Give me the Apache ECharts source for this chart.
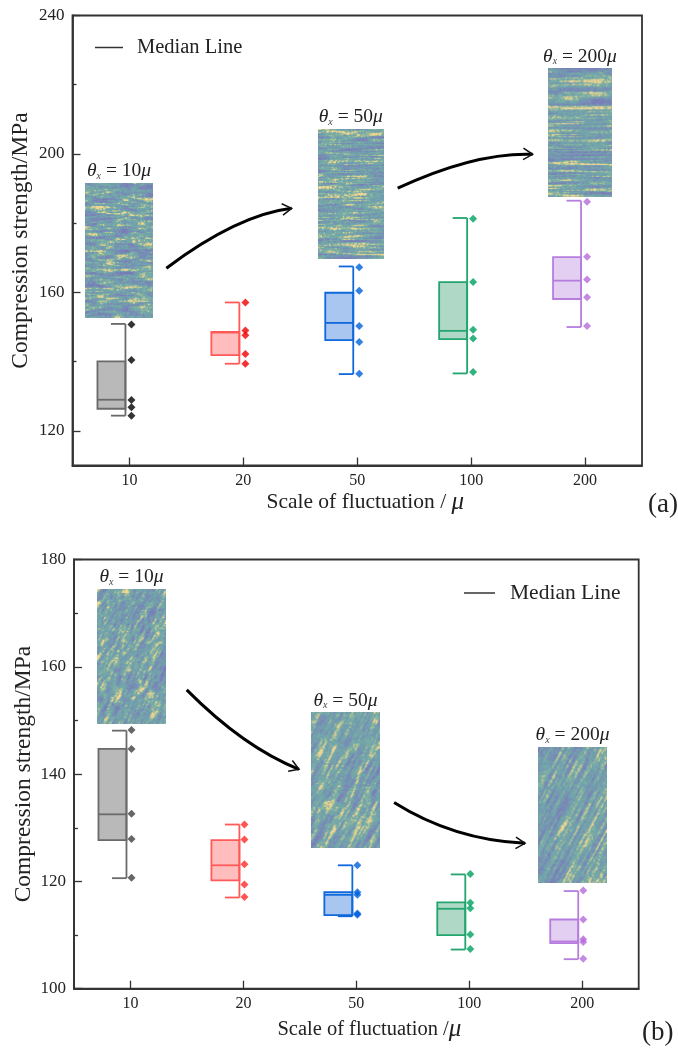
<!DOCTYPE html>
<html><head><meta charset="utf-8">
<style>html,body{margin:0;padding:0;background:#fff}#c{width:678px;height:1048px;filter:blur(0.4px)}</style>
<script src="https://cdn.jsdelivr.net/npm/echarts@6/dist/echarts.min.js"></script>
</head><body><div id="c"></div>
<script>
// ---- data ----
const categories = ['10','20','50','100','200'];
const panelATicks = [120,160,200,240];
const panelAMinor = [140,180,220];
const panelBTicks = [100,120,140,160,180];
const panelBMinor = [110,130,150,170];
// whisker low, Q1, median, Q3, whisker high
const aLow  = [124.4,139.4,136.4,136.6,150.0];
const aQ1   = [126.4,141.9,146.2,146.5,158.1];
const aMed  = [129.0,148.4,151.2,148.9,163.4];
const aQ3   = [140.1,148.6,159.9,163.0,170.2];
const aHigh = [150.9,157.1,167.5,181.5,186.5];
const aPts10  = [150.7,140.5,128.9,126.8,124.4];
const aPts20  = [157.1,149.0,147.6,142.2,139.4];
const aPts50  = [167.3,160.5,150.3,145.7,136.5];
const aPts100 = [181.3,163.0,149.2,146.7,137.0];
const aPts200 = [186.2,170.3,163.7,158.6,150.3];
const bLow  = [120.6,117.0,113.5,107.3,105.5];
const bQ1   = [127.7,120.2,113.7,110.0,108.5];
const bMed  = [132.5,123.0,117.5,114.9,108.8];
const bQ3   = [144.7,127.7,118.0,116.1,112.9];
const bHigh = [148.1,130.6,123.0,121.3,118.2];
const bPts10  = [148.2,144.7,132.6,127.9,120.7];
const bPts20  = [130.6,127.8,123.2,119.4,117.1];
const bPts50  = [123.0,118.0,117.5,114.0,113.8];
const bPts100 = [121.4,116.0,115.0,110.1,107.4];
const bPts200 = [118.3,112.9,109.2,108.7,105.6];
// inset labels and their extents [slotFrom, slotTo, valueLow, valueHigh]
const insetLabels = ['10','50','200'];
const aInsets = [[0.110,0.707,152.7,191.6],[2.155,2.732,169.7,207.2],[4.172,4.739,187.6,224.7]];
const bInsets = [[0.206,0.812,149.3,174.5],[2.101,2.707,126.15,151.5],[4.111,4.717,119.75,145.0]];
// trend arrows [x0,y0, cx,cy, x1,y1]
const aArrows = [[0.824,167.0,1.448,182.4,1.924,184.3],[2.855,190.1,3.532,200.5,4.04,199.9]];
const bArrows = [[0.998,155.7,1.503,145.0,1.992,140.9],[2.834,134.7,3.364,127.7,3.994,127.1]];

// ---- styles ----
const FONT = '"Liberation Serif","Times New Roman",serif';
const strokes = ['#6a6a6a','#ff5a5a','#0f68dc','#22a56f','#b67ddf'];
const fills   = ['#b9b9b9','#ffbdbd','#a9c6f0','#b0d8c6','#e3cff2'];
const aDots   = ['#000000','#f00000','#0060dc','#00a060','#b46cdc'];
const bDots   = ['#404040','#ff2a2a','#0060dc','#00a060','#b46cdc'];

// ---- texture for inset micrographs ----
function hash(i,j,s){let x=Math.sin(i*127.1+j*311.7+s*74.7)*43758.5453;return x-Math.floor(x);}
function vnoise(x,y,s){const i=Math.floor(x),j=Math.floor(y);let fx=x-i,fy=y-j;
  fx=fx*fx*(3-2*fx);fy=fy*fy*(3-2*fy);
  const a=hash(i,j,s),b=hash(i+1,j,s),c=hash(i,j+1,s),d=hash(i+1,j+1,s);
  return a+(b-a)*fx+(c-a)*fy+(a-b-c+d)*fx*fy;}
const ramp=[[0,[118,122,182]],[0.3,[122,142,182]],[0.44,[112,160,172]],[0.66,[122,174,165]],[0.76,[176,194,150]],[0.88,[238,210,146]],[1,[245,216,150]]];
function cmap(t){t=Math.max(0,Math.min(1,t));for(let k=1;k<ramp.length;k++){if(t<=ramp[k][0]){const a=ramp[k-1],b=ramp[k],f=(t-a[0])/(b[0]-a[0]);return a[1].map((v,q)=>v+(b[1][q]-v)*f);}}return ramp[ramp.length-1][1];}
function makeTexture(w,h,angle,along,across,seed){
  const cv=document.createElement('canvas');cv.width=w;cv.height=h;const g=cv.getContext('2d');const im=g.createImageData(w,h);
  const ca=Math.cos(angle),sa=Math.sin(angle);
  for(let y=0;y<h;y++)for(let x=0;x<w;x++){
    const u=x*ca-y*sa,v=x*sa+y*ca;
    const n1=vnoise(u/along,v/across,seed),n2=vnoise(u/(along*0.4),v/(across*0.45),seed+5),n3=vnoise(x/1.4,y/1.4,seed+9);
    const t=0.5+(n1-0.5)*0.5+(n2-0.5)*0.55+(n3-0.5)*0.38;
    const c=cmap(t),o=(y*w+x)*4;im.data[o]=c[0];im.data[o+1]=c[1];im.data[o+2]=c[2];im.data[o+3]=255;}
  g.putImageData(im,0,0);return cv;}
const H=0,D=Math.PI/2.9;
const aTex=[makeTexture(68,135,H,20,3.2,1),makeTexture(66,130,H,36,2.6,2),makeTexture(65,129,H,60,2.4,3)];
const bTex=[makeTexture(68,135,D,14,3.6,4),makeTexture(68,135,D,26,3.4,5),makeTexture(68,135,D,50,3.4,6)];

// ---- series builders ----
function boxSeries(low,q1,med,q3,high,xi,yi){
  return {type:'custom',xAxisIndex:xi,yAxisIndex:yi,z:3,silent:true,clip:false,
    data:categories.map((c,i)=>[i,low[i],q1[i],med[i],q3[i],high[i]]),
    encode:{x:0,y:[1,2,3,4,5]},
    renderItem(p,api){
      const i=api.value(0),X=api.coord([i,api.value(3)])[0];
      const L=X-32,R=X-4,C=X-18.5;
      const py=k=>api.coord([i,api.value(k)])[1];
      const st={stroke:strokes[p.dataIndex],lineWidth:1.8,fill:null};
      const line=(a,b,c,d)=>({type:'line',shape:{x1:a,y1:b,x2:c,y2:d},style:st});
      return {type:'group',children:[
        {type:'rect',shape:{x:L,y:py(4),width:R-L,height:py(2)-py(4)},style:{fill:fills[p.dataIndex],stroke:strokes[p.dataIndex],lineWidth:1.8}},
        line(L,py(3),R,py(3)),line(R,py(5),R,py(1)),line(C,py(5),R,py(5)),line(C,py(1),R,py(1))]};
    }};
}
function dotSeries(rows,colors,xi,yi,dx){
  const data=[];rows.forEach((r,i)=>r.forEach(v=>data.push({value:[i,v],itemStyle:{color:colors[i]}})));
  return {type:'scatter',xAxisIndex:xi,yAxisIndex:yi,z:4,silent:true,symbol:'diamond',symbolSize:8,symbolOffset:[dx,0],data};
}
function insetSeries(ins,tex,xi,yi){
  return {type:'custom',xAxisIndex:xi,yAxisIndex:yi,z:2,silent:true,clip:false,
    data:ins,encode:{x:[0,1],y:[2,3]},
    renderItem(p,api){
      const a=api.coord([api.value(0),api.value(3)]),b=api.coord([api.value(1),api.value(2)]);
      const cx=(a[0]+b[0])/2;
      return {type:'group',children:[
        {type:'image',style:{image:tex[p.dataIndex],x:a[0],y:a[1],width:b[0]-a[0],height:b[1]-a[1]}},
        {type:'text',style:{x:cx,y:a[1]-2,align:'center',verticalAlign:'bottom',
          text:'{t|θ}{s|x}{n| = '+insetLabels[p.dataIndex]+'}{t|μ}',
          rich:{t:{fontFamily:FONT,fontStyle:'italic',fontSize:19.5,fill:'#222',verticalAlign:'bottom',lineHeight:22},
                s:{fontFamily:FONT,fontStyle:'italic',fontSize:10,fill:'#444',verticalAlign:'bottom',lineHeight:16},
                n:{fontFamily:FONT,fontSize:19.5,fill:'#222',verticalAlign:'bottom',lineHeight:22}}}}]};
    }};
}
function arrowSeries(arr,xi,yi){
  return {type:'custom',xAxisIndex:xi,yAxisIndex:yi,z:5,silent:true,clip:false,
    data:arr,encode:{x:[0,2,4],y:[1,3,5]},
    renderItem(p,api){
      const s=api.coord([api.value(0),api.value(1)]),c=api.coord([api.value(2),api.value(3)]),e=api.coord([api.value(4),api.value(5)]);
      const ang=Math.atan2(e[1]-c[1],e[0]-c[0]),h=11,w=0.55;
      return {type:'group',children:[
        {type:'bezierCurve',shape:{x1:s[0],y1:s[1],x2:e[0],y2:e[1],cpx1:c[0],cpy1:c[1]},style:{stroke:'#000',lineWidth:3,fill:null}},
        {type:'polyline',shape:{points:[[e[0]-h*Math.cos(ang-w),e[1]-h*Math.sin(ang-w)],[e[0],e[1]],[e[0]-h*Math.cos(ang+w),e[1]-h*Math.sin(ang+w)]]},style:{stroke:'#111',lineWidth:1.5,fill:null}}]};
    }};
}
function medianKey(xi,yi){return {type:'line',name:'Median Line',xAxisIndex:xi,yAxisIndex:yi,data:[],symbol:'none',lineStyle:{color:'#333',width:1.5},itemStyle:{color:'#333'}};}

// ---- axes ----
const axisLine={show:true,onZero:false,lineStyle:{color:'#333',width:1.8}};
function catAxis(gi,pad,gap){return {type:'category',gridIndex:gi,data:categories,position:'bottom',boundaryGap:true,
  axisLine,axisTick:{show:true,inside:true,alignWithLabel:true,length:8,lineStyle:{color:'#333',width:1.3}},
  axisLabel:{fontFamily:FONT,fontSize:16,color:'#222',margin:7},nameMoveOverlap:false,
  name:gi===0?'{n|Scale of fluctuation / }{m|μ}':'{n|Scale of fluctuation /}{m|μ}',nameLocation:'center',nameGap:gap,
  nameTextStyle:{padding:[0,0,0,pad],rich:{n:{fontFamily:FONT,fontSize:gi===0?21.5:20.5,color:'#222'},m:{fontFamily:FONT,fontStyle:'italic',fontSize:25,color:'#222'}}}};}
function slotAxis(gi){return {type:'value',gridIndex:gi,min:0,max:5,show:false,splitLine:{show:false}};}
function valAxis(gi,min,max,ticks){return {type:'value',gridIndex:gi,min,max,position:'left',splitLine:{show:false},
  axisLine,axisTick:{show:true,inside:true,length:8,customValues:ticks,lineStyle:{color:'#333',width:1.3}},
  axisLabel:{fontFamily:FONT,fontSize:17,color:'#222',margin:8,customValues:ticks},nameMoveOverlap:false,
  name:'Compression strength/MPa',nameLocation:'center',nameGap:gi===0?40:38,
  nameTextStyle:{fontFamily:FONT,fontSize:23.5,color:'#222'}};}
function minorAxis(gi,min,max,ticks){return {type:'value',gridIndex:gi,min,max,position:'left',splitLine:{show:false},
  axisLine:{show:false},axisLabel:{show:false},axisTick:{show:true,inside:true,length:4,customValues:ticks,lineStyle:{color:'#333',width:1.3}}};}

const chart=echarts.init(document.getElementById('c'),null,{renderer:'canvas'});
const frame={show:true,borderColor:'#333',borderWidth:1.8,backgroundColor:'#fff',containLabel:false,outerBoundsMode:'none'};
chart.setOption({
  animation:false,
  backgroundColor:'#fff',
  grid:[Object.assign({left:72.5,top:15.5,width:569.5,height:450},frame),
        Object.assign({left:74,top:559.5,width:564.7,height:429.2},frame)],
  xAxis:[catAxis(0,16,24),slotAxis(0),catAxis(1,26,28),slotAxis(1)],
  yAxis:[valAxis(0,110,240,panelATicks),minorAxis(0,110,240,panelAMinor),valAxis(1,100,180,panelBTicks),minorAxis(1,100,180,panelBMinor)],
  legend:[
    {left:90,top:32,icon:'rect',itemWidth:28,itemHeight:1.5,itemGap:8,selectedMode:false,data:['Median Line'],textStyle:{fontFamily:FONT,fontSize:20.5,color:'#222',padding:[0,0,0,9]}},
    {left:459,top:577,icon:'rect',itemWidth:31,itemHeight:1.5,selectedMode:false,data:['Median Line'],textStyle:{fontFamily:FONT,fontSize:21.5,color:'#222',padding:[0,0,0,10]}}],
  graphic:[
    {type:'text',left:648,top:491,style:{text:'(a)',fontFamily:FONT,fontSize:27,fill:'#222'}},
    {type:'text',left:642,top:1019,style:{text:'(b)',fontFamily:FONT,fontSize:27,fill:'#222'}}],
  series:[
    medianKey(0,0),
    insetSeries(aInsets,aTex,1,0),
    arrowSeries(aArrows,1,0),
    boxSeries(aLow,aQ1,aMed,aQ3,aHigh,0,0),
    dotSeries([aPts10,aPts20,aPts50,aPts100,aPts200],aDots,0,0,2),
    medianKey(2,2),
    insetSeries(bInsets,bTex,3,2),
    arrowSeries(bArrows,3,2),
    boxSeries(bLow,bQ1,bMed,bQ3,bHigh,2,2),
    dotSeries([bPts10,bPts20,bPts50,bPts100,bPts200],bDots,2,2,1)
  ]
});
</script></body></html>
